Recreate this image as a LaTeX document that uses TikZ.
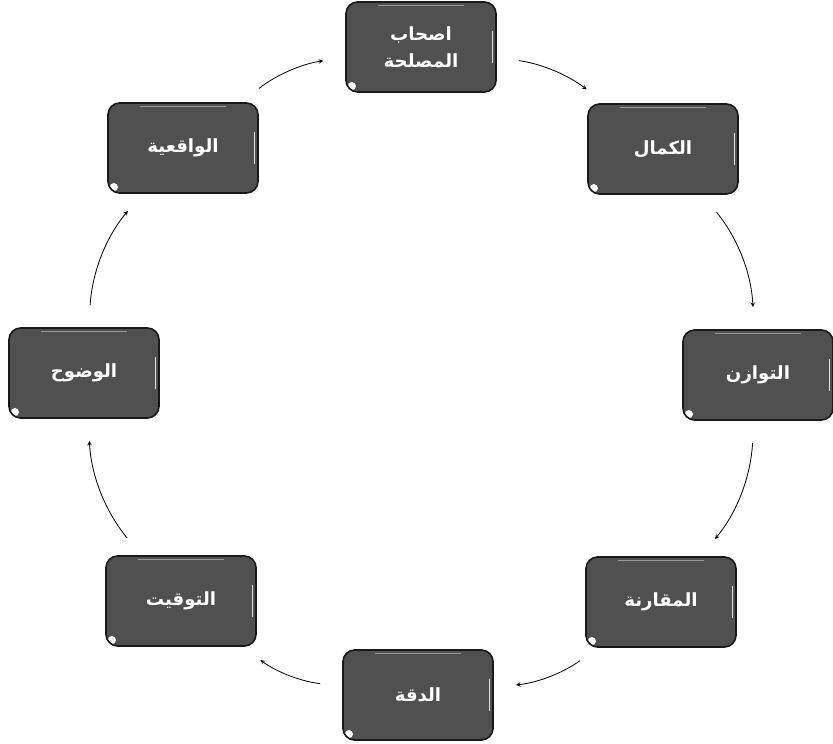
\documentclass[tikz,border=0pt]{standalone}
\usepackage{fontspec}
\newfontfamily\arabicfont[Script=Arabic]{DejaVu Sans}
\TeXXeTstate=1
\usetikzlibrary{arrows}
\usetikzlibrary{positioning}

\definecolor{boxgray}{RGB}{80,80,80}
\definecolor{boxedge}{RGB}{25,25,25}

\tikzset{
    stage/.style={draw=boxedge, line width=1.4pt, fill=boxgray, rounded corners=0.35cm,
        minimum width=4.5cm, minimum height=2.7cm, align=center,
        text=white, font=\arabicfont\bfseries\fontsize{15.5}{23}\selectfont,
        path picture={
            \draw[white!75!gray, line width=1pt]
                ([shift={(-3pt,-6pt)}]path picture bounding box.north east) --
                ([shift={(-3pt,6pt)}]path picture bounding box.south east);
            \draw[gray!80, line width=1.5pt]
                ([shift={(8pt,-3pt)}]path picture bounding box.north west) --
                ([shift={(-8pt,-3pt)}]path picture bounding box.north east);
            \fill[white] ([shift={(5pt,5pt)}]path picture bounding box.south west) circle (3.5pt);
        }}
}

\begin{document}
\begin{tikzpicture}[x=0.03cm,y=0.03cm,>=stealth,shorten >=19pt,shorten <=19pt,auto]
    \useasboundingbox (0,0) rectangle (833,743);
    % eight stages placed round a ring, clockwise from the top
    \node[stage] (s_1) at (421,696) {\beginR اصحاب\endR\\\beginR المصلحة\endR};
    \node[stage] (s_2) at (663,594) {\beginR الكمال\endR};
    \node[stage] (s_3) at (758,368) {\beginR التوازن\endR};
    \node[stage] (s_4) at (661,141) {\beginR المقارنة\endR};
    \node[stage] (s_5) at (418,48)  {\beginR الدقة\endR};
    \node[stage] (s_6) at (181,142) {\beginR التوقيت\endR};
    \node[stage] (s_7) at (84,370)  {\beginR الوضوح\endR};
    \node[stage] (s_8) at (183,595) {\beginR الواقعية\endR};
    \path[->, line width=0.7pt]
    (s_8) edge[bend left=15] (s_1)
    (s_1) edge[bend left=15] (s_2)
    (s_2) edge[bend left=18] (s_3)
    (s_3) edge[bend left=18] (s_4)
    (s_4) edge[bend left=15] (s_5)
    (s_5) edge[bend left=15] (s_6)
    (s_6) edge[bend left=18] (s_7)
    (s_7) edge[bend left=18] (s_8);
\end{tikzpicture}
\end{document}
